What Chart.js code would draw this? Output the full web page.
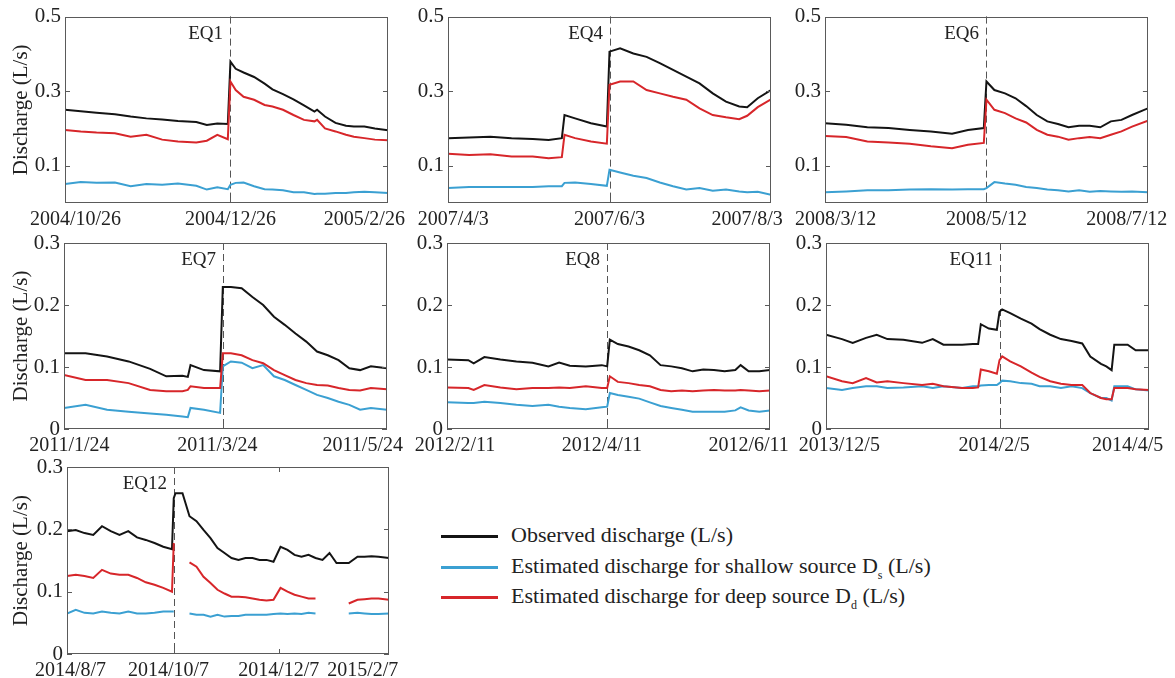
<!DOCTYPE html>
<html>
<head>
<meta charset="utf-8">
<script src="https://cdn.jsdelivr.net/npm/chart.js@4.4.1/dist/chart.umd.min.js"></script>
<style>
body { margin: 0; background: #fff; }
#page { position: relative; width: 1175px; height: 678px; overflow: hidden; }
#page canvas { position: absolute; }
#legend { position: absolute; left: 441px; top: 520px; font: 22px "Liberation Serif", "Times New Roman", serif; color: #222; }
#legend .row { height: 30.5px; line-height: 30.5px; white-space: nowrap; }
#legend .sw { display: inline-block; width: 57px; height: 3px; vertical-align: middle; margin-right: 13px; }
#legend sub { font-size: 12px; vertical-align: -6px; line-height: 0; }
</style>
</head>
<body>
<div id="page"><div id="legend"></div></div>
<script>
// 序列名称和颜色
var seriesNames = ['Observed discharge (L/s)', 'Estimated discharge for shallow source D<sub>s</sub> (L/s)', 'Estimated discharge for deep source D<sub>d</sub> (L/s)'];
var seriesColors = ['#141414', '#3ba0d2', '#d7262a'];

var yTicksTop = [0.1, 0.3, 0.5];
var yTicksLow = [0, 0.1, 0.2, 0.3];

// EQ1  2004/10/26 - 2005/2/26
var days1 = [0,6,12,19,25,31,37,43,50,54,58,62,63,65,68,72,76,79,83,87,91,95,96,99,103,107,110,114,118,123];
var obs1 = [0.250,0.246,0.242,0.238,0.232,0.227,0.224,0.220,0.217,0.209,0.213,0.212,0.379,0.360,0.350,0.338,0.320,0.305,0.292,0.278,0.262,0.245,0.250,0.232,0.215,0.207,0.205,0.205,0.200,0.195];
var ds1 = [0.051,0.056,0.054,0.055,0.045,0.051,0.049,0.052,0.046,0.036,0.042,0.037,0.049,0.054,0.055,0.045,0.037,0.036,0.034,0.029,0.029,0.024,0.025,0.025,0.027,0.027,0.029,0.030,0.029,0.027];
var dd1 = [0.196,0.192,0.189,0.187,0.178,0.183,0.170,0.165,0.162,0.167,0.183,0.171,0.326,0.303,0.285,0.277,0.263,0.259,0.250,0.236,0.223,0.219,0.223,0.200,0.192,0.183,0.178,0.174,0.170,0.168];
var xt1 = [4, 63, 114];
var xl1 = ['2004/10/26', '2004/12/26', '2005/2/26'];

// EQ4  2007/4/3 - 2007/8/3
var days2 = [0,8,16,24,32,38,43,44,48,54,60,61,65,70,75,80,85,90,95,100,105,110,113,117,122];
var obs2 = [0.174,0.176,0.178,0.174,0.172,0.169,0.174,0.236,0.227,0.214,0.205,0.406,0.415,0.401,0.392,0.375,0.357,0.339,0.321,0.294,0.272,0.259,0.257,0.281,0.303];
var ds2 = [0.040,0.043,0.043,0.043,0.043,0.045,0.045,0.054,0.055,0.051,0.046,0.089,0.082,0.073,0.067,0.055,0.045,0.036,0.040,0.033,0.036,0.031,0.029,0.030,0.022];
var dd2 = [0.132,0.129,0.131,0.125,0.125,0.120,0.123,0.183,0.174,0.165,0.159,0.317,0.326,0.326,0.303,0.294,0.285,0.277,0.254,0.236,0.230,0.225,0.234,0.257,0.278];
var xt2 = [2, 61, 113];
var xl2 = ['2007/4/3', '2007/6/3', '2007/8/3'];

// EQ6  2008/3/12 - 2008/7/12
var days3 = [0,8,16,24,32,40,48,54,60,61,64,68,72,76,80,84,88,92,96,100,104,108,112,116,122];
var obs3 = [0.214,0.210,0.203,0.201,0.196,0.192,0.186,0.196,0.201,0.326,0.303,0.294,0.281,0.260,0.236,0.219,0.212,0.203,0.207,0.207,0.203,0.219,0.223,0.236,0.254];
var ds3 = [0.029,0.031,0.034,0.034,0.036,0.037,0.036,0.037,0.037,0.040,0.056,0.052,0.049,0.043,0.040,0.036,0.034,0.031,0.034,0.030,0.032,0.031,0.030,0.031,0.029];
var dd3 = [0.180,0.177,0.165,0.162,0.159,0.152,0.147,0.156,0.161,0.277,0.250,0.241,0.227,0.216,0.196,0.183,0.178,0.170,0.174,0.177,0.174,0.183,0.192,0.205,0.221];
var xt3 = [4, 61, 114];
var xl3 = ['2008/3/12', '2008/5/12', '2008/7/12'];

// EQ7  2011/1/24 - 2011/5/24
var days4 = [0,8,16,24,32,38,44,46,47,52,58,59,62,66,70,74,78,82,86,90,94,98,102,106,110,114,120];
var obs4 = [0.122,0.122,0.117,0.109,0.097,0.085,0.086,0.084,0.103,0.095,0.093,0.229,0.229,0.227,0.213,0.200,0.181,0.168,0.154,0.141,0.125,0.119,0.111,0.098,0.095,0.101,0.098];
var ds4 = [0.034,0.039,0.031,0.028,0.025,0.023,0.020,0.019,0.034,0.031,0.026,0.101,0.109,0.107,0.098,0.103,0.085,0.079,0.071,0.063,0.055,0.050,0.044,0.039,0.031,0.034,0.031];
var dd4 = [0.087,0.079,0.079,0.074,0.063,0.061,0.061,0.063,0.069,0.066,0.066,0.122,0.122,0.119,0.111,0.106,0.095,0.087,0.079,0.074,0.071,0.070,0.066,0.063,0.062,0.066,0.064];
var xt4 = [2, 57, 111];
var xl4 = ['2011/1/24', '2011/3/24', '2011/5/24'];

// EQ8  2012/2/11 - 2012/6/11
var days5 = [0,8,10,14,20,26,32,38,42,46,52,58,60,61,64,68,72,76,80,84,88,92,96,100,104,108,110,113,117,121];
var obs5 = [0.112,0.111,0.106,0.116,0.112,0.109,0.107,0.101,0.107,0.102,0.101,0.103,0.101,0.144,0.137,0.133,0.127,0.119,0.103,0.101,0.098,0.093,0.096,0.095,0.093,0.095,0.103,0.093,0.093,0.095];
var ds5 = [0.043,0.042,0.042,0.044,0.042,0.039,0.037,0.039,0.036,0.034,0.032,0.035,0.036,0.058,0.055,0.052,0.049,0.043,0.037,0.034,0.031,0.028,0.028,0.028,0.028,0.030,0.035,0.030,0.028,0.030];
var dd5 = [0.067,0.066,0.063,0.071,0.067,0.064,0.066,0.066,0.067,0.066,0.069,0.066,0.066,0.085,0.076,0.074,0.071,0.069,0.063,0.061,0.062,0.061,0.062,0.063,0.062,0.062,0.063,0.062,0.061,0.062];
var xt5 = [3, 58, 113];
var xl5 = ['2012/2/11', '2012/4/11', '2012/6/11'];

// EQ11  2013/12/5 - 2014/4/5
var days6 = [0,6,10,15,19,23,29,36,40,44,51,55,57,58,61,64,65,66,69,73,77,80,84,88,92,96,99,103,105,107,108,113,116,121];
var obs6 = [0.152,0.145,0.139,0.147,0.152,0.145,0.144,0.139,0.145,0.136,0.136,0.137,0.137,0.169,0.162,0.160,0.189,0.193,0.187,0.178,0.170,0.161,0.152,0.145,0.142,0.138,0.117,0.105,0.101,0.095,0.136,0.136,0.127,0.127];
var ds6 = [0.066,0.063,0.066,0.069,0.069,0.066,0.067,0.069,0.066,0.069,0.066,0.069,0.069,0.070,0.071,0.071,0.074,0.078,0.077,0.074,0.073,0.069,0.069,0.066,0.069,0.066,0.058,0.050,0.050,0.046,0.069,0.069,0.064,0.062];
var dd6 = [0.085,0.077,0.074,0.082,0.075,0.077,0.074,0.071,0.073,0.069,0.066,0.066,0.067,0.096,0.093,0.089,0.111,0.117,0.109,0.101,0.091,0.084,0.077,0.073,0.071,0.071,0.058,0.050,0.048,0.048,0.066,0.066,0.064,0.063];
var xt6 = [5, 63, 113];
var xl6 = ['2013/12/5', '2014/2/5', '2014/4/5'];

// EQ12  2014/8/7 - 2015/2/7 (null = 缺测)
var days7 = [0,5,10,15,20,25,30,35,40,45,50,55,60,61,62,66,70,74,78,82,86,90,94,98,102,106,110,114,118,122,126,130,134,138,142,146,150,154,158,161,166,170,174,178,184];
var obs7 = [0.197,0.199,0.194,0.191,0.205,0.197,0.191,0.197,0.187,0.183,0.178,0.172,0.168,0.250,0.258,0.258,0.221,0.213,0.199,0.186,0.170,0.162,0.154,0.151,0.154,0.154,0.151,0.151,0.148,0.172,0.167,0.159,0.156,0.159,0.154,0.151,0.162,0.146,0.146,0.146,0.156,0.156,0.157,0.156,0.154];
var ds7 = [0.065,0.071,0.066,0.065,0.068,0.066,0.065,0.068,0.065,0.065,0.066,0.068,0.068,0.068,null,null,0.065,0.063,0.063,0.060,0.063,0.060,0.061,0.061,0.063,0.063,0.063,0.063,0.064,0.065,0.064,0.065,0.064,0.066,0.065,null,null,null,null,0.065,0.066,0.065,0.064,0.064,0.065];
var dd7 = [0.125,0.127,0.125,0.122,0.135,0.129,0.127,0.127,0.122,0.115,0.111,0.106,0.100,0.178,null,null,0.147,0.140,0.124,0.114,0.103,0.097,0.092,0.092,0.091,0.089,0.087,0.086,0.087,0.106,0.100,0.095,0.092,0.089,0.089,null,null,null,null,0.081,0.087,0.088,0.089,0.089,0.087];
var xt7 = [2, 58, 121, 169];
var xl7 = ['2014/8/7', '2014/10/7', '2014/12/7', '2015/2/7'];

// 每个子图: 数据 + 绘图区位置 [left, top, right, bottom]
var panels = [
    { eq: 'EQ1',  eqDay: 63, span: 123, days: days1, obs: obs1, ds: ds1, dd: dd1, xt: xt1, xl: xl1, yt: yTicksTop, ymax: 0.5, box: [65, 16, 388, 203], first: true },
    { eq: 'EQ4',  eqDay: 61, span: 122, days: days2, obs: obs2, ds: ds2, dd: dd2, xt: xt2, xl: xl2, yt: yTicksTop, ymax: 0.5, box: [448, 16, 771, 203] },
    { eq: 'EQ6',  eqDay: 61, span: 122, days: days3, obs: obs3, ds: ds3, dd: dd3, xt: xt3, xl: xl3, yt: yTicksTop, ymax: 0.5, box: [825, 16, 1148, 203] },
    { eq: 'EQ7',  eqDay: 59, span: 120, days: days4, obs: obs4, ds: ds4, dd: dd4, xt: xt4, xl: xl4, yt: yTicksLow, ymax: 0.3, box: [64, 243, 387, 429], first: true },
    { eq: 'EQ8',  eqDay: 60, span: 121, days: days5, obs: obs5, ds: ds5, dd: dd5, xt: xt5, xl: xl5, yt: yTicksLow, ymax: 0.3, box: [447, 243, 770, 429] },
    { eq: 'EQ11', eqDay: 65, span: 121, days: days6, obs: obs6, ds: ds6, dd: dd6, xt: xt6, xl: xl6, yt: yTicksLow, ymax: 0.3, box: [826, 243, 1149, 429] },
    { eq: 'EQ12', eqDay: 61, span: 184, days: days7, obs: obs7, ds: ds7, dd: dd7, xt: xt7, xl: xl7, yt: yTicksLow, ymax: 0.3, box: [67, 467, 389, 654], first: true }
];

Chart.defaults.font.family = '"Liberation Serif", "Times New Roman", serif';
Chart.defaults.color = '#222';

// 边框、向内刻度、地震虚线和标注
var framePlugin = {
    id: 'frame',
    beforeDatasetsDraw: function(chart) {
        var p = chart.config.options.plugins.frame;
        var a = chart.chartArea;
        var ctx = chart.ctx;
        var px = Math.round(chart.scales.x.getPixelForValue(p.eqDay)) + 0.5;
        ctx.save();
        ctx.strokeStyle = '#555';
        ctx.lineWidth = 1;
        ctx.setLineDash([7, 4]);
        ctx.beginPath();
        ctx.moveTo(px, a.top);
        ctx.lineTo(px, a.bottom);
        ctx.stroke();
        ctx.restore();
    },
    afterDraw: function(chart) {
        var p = chart.config.options.plugins.frame;
        var a = chart.chartArea;
        var ctx = chart.ctx;
        var xs = chart.scales.x, ys = chart.scales.y;
        ctx.save();
        ctx.strokeStyle = '#5a5a5a';
        ctx.lineWidth = 1;
        ctx.strokeRect(Math.round(a.left) + 0.5, Math.round(a.top) + 0.5, Math.round(a.width) - 1, Math.round(a.height) - 1);
        ctx.beginPath();
        ys.ticks.forEach(function(t) {
            var py = Math.round(ys.getPixelForValue(t.value)) + 0.5;
            ctx.moveTo(a.left, py); ctx.lineTo(a.left + 5, py);
            ctx.moveTo(a.right - 5, py); ctx.lineTo(a.right, py);
        });
        var marks = [p.eqDay];
        xs.ticks.forEach(function(t, i) {
            if (i > 0 && i < xs.ticks.length - 1 && Math.abs(t.value - p.eqDay) > 6) marks.push(t.value);
        });
        marks.forEach(function(v) {
            var px = Math.round(xs.getPixelForValue(v)) + 0.5;
            ctx.moveTo(px, a.bottom); ctx.lineTo(px, a.bottom - 5);
            ctx.moveTo(px, a.top); ctx.lineTo(px, a.top + 5);
        });
        ctx.stroke();
        ctx.fillStyle = '#222';
        ctx.font = '19px "Liberation Serif", "Times New Roman", serif';
        ctx.textAlign = 'right';
        ctx.textBaseline = 'middle';
        ctx.fillText(p.label, Math.round(xs.getPixelForValue(p.eqDay)) - 7, a.top + 17);
        ctx.restore();
    }
};

function toPoints(days, vals) {
    return days.map(function(d, i) { return { x: d, y: vals[i] }; });
}

function createPanel(p) {
    var b = p.box;
    var padL = p.first ? b[0] : 60;
    var padT = Math.min(b[1], 22);
    var padR = 26;
    var padB = 24;
    var cv = document.createElement('canvas');
    var w = (b[2] - b[0]) + padL + padR;
    var h = (b[3] - b[1]) + padT + padB;
    cv.width = w; cv.height = h;
    cv.style.width = w + 'px'; cv.style.height = h + 'px';
    cv.style.left = (b[0] - padL) + 'px';
    cv.style.top = (b[1] - padT) + 'px';
    document.getElementById('page').appendChild(cv);

    var vals = [p.obs, p.ds, p.dd];
    var datasets = vals.map(function(v, i) {
        return {
            label: seriesNames[i],
            data: toPoints(p.days, v),
            borderColor: seriesColors[i],
            borderWidth: 2,
            pointRadius: 0,
            tension: 0,
            spanGaps: false,
            order: 3 - i
        };
    });

    return new Chart(cv.getContext('2d'), {
        type: 'line',
        data: { datasets: datasets },
        options: {
            responsive: false,
            animation: false,
            events: [],
            layout: { padding: { left: 0, top: padT, right: padR, bottom: 0 } },
            plugins: {
                legend: { display: false },
                tooltip: { enabled: false },
                frame: { eqDay: p.eqDay, label: p.eq }
            },
            scales: {
                x: {
                    type: 'linear',
                    min: 0,
                    max: p.span,
                    grid: { display: false, drawTicks: false },
                    border: { display: false },
                    afterBuildTicks: function(s) { s.ticks = p.xt.map(function(v) { return { value: v }; }); },
                    afterFit: function(s) { s.height = padB; },
                    ticks: {
                        autoSkip: false, maxRotation: 0, minRotation: 0, padding: 5,
                        font: { size: 20 },
                        callback: function(v, i) { return p.xl[i]; }
                    }
                },
                y: {
                    min: 0,
                    max: p.ymax,
                    grid: { display: false, drawTicks: false },
                    border: { display: false },
                    afterBuildTicks: function(s) { s.ticks = p.yt.map(function(v) { return { value: v }; }); },
                    afterFit: function(s) { s.width = padL; },
                    ticks: {
                        padding: 4,
                        font: { size: 21 },
                        callback: function(v) { return v === 0 ? '0' : v.toFixed(1); }
                    },
                    title: {
                        display: !!p.first,
                        text: 'Discharge (L/s)',
                        font: { size: 21 },
                        padding: { top: 9, bottom: 0 }
                    }
                }
            }
        },
        plugins: [framePlugin]
    });
}

var charts = panels.map(createPanel);

// 图例 (HTML, 为了下标)
var legend = document.getElementById('legend');
seriesNames.forEach(function(n, i) {
    var row = document.createElement('div');
    row.className = 'row';
    row.innerHTML = '<span class="sw" style="background:' + seriesColors[i] + '"></span>' + n;
    legend.appendChild(row);
});
</script>
</body>
</html>
